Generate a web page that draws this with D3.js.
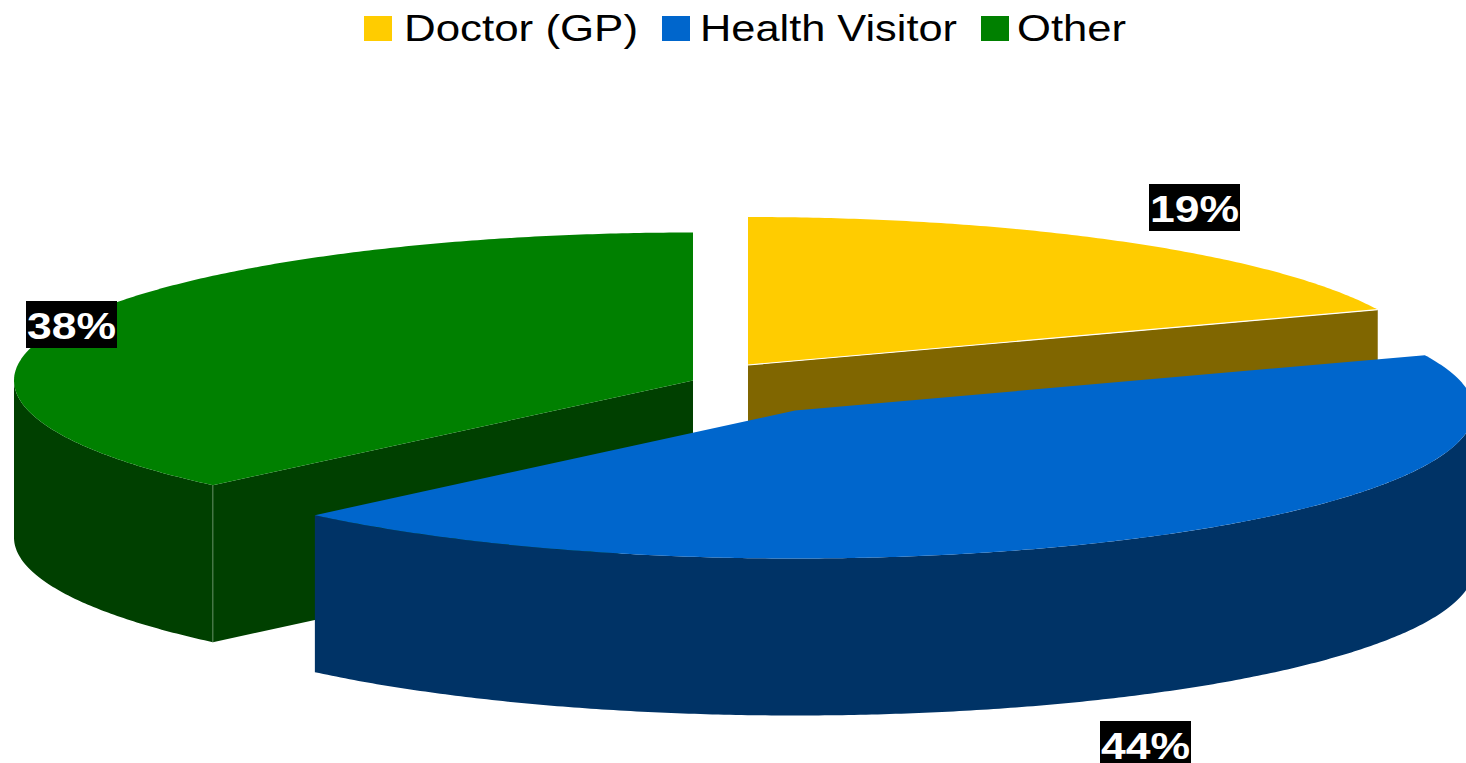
<!DOCTYPE html>
<html>
<head>
<meta charset="utf-8">
<script src="https://cdn.jsdelivr.net/npm/d3@7"></script>
<style>
html,body{margin:0;padding:0;background:#fff;overflow:hidden}
svg{display:block}
text{font-family:"Liberation Sans",Arial,sans-serif}
</style>
</head>
<body>
<div id="chart"></div>
<script>
const categories = ["Doctor (GP)", "Health Visitor", "Other"];
const values = [18.9, 43.6, 37.5];
const percentLabels = ["19%", "44%", "38%"];
const topColors = ["#FFCC00", "#0066CC", "#008000"];
const sideColors = ["#806600", "#003366", "#004000"];

// Layout
const W = 1466, H = 763;
const rx = 679, ry = 148, depth = 157;
const centers = [[748, 365], [795, 410.5], [693, 380.5]];
const labelBoxes = [[1149, 184], [1100, 721], [26, 301]];
const legendItems = [[364, 404, 234], [662, 700, 257], [981, 1017, 109]];
const drawOrder = [0, 2, 1];

const svg = d3.select("#chart").append("svg").attr("width", W).attr("height", H).attr("viewBox", [0, 0, W, H]);
const arcs = d3.pie().sort(null).value(d => d)(values);
const line = d3.line();
const step = Math.PI / 360;
const sample = (a0, a1) => d3.range(a0, a1, step).concat([a1]);

drawOrder.forEach(i => {
  const [cx, cy] = centers[i];
  const { startAngle: a0, endAngle: a1 } = arcs[i];
  const rim = (a, dy = 0) => [cx + rx * Math.sin(a), cy - ry * Math.cos(a) + dy];
  const g = svg.append("g").attr("class", "slice");

  // radial walls that face the viewer
  [[a1, Math.sin(a1) > 0], [a0, Math.sin(a0) < -1e-6]].forEach(([a, visible]) => {
    if (!visible) return;
    const p = rim(a), q = rim(a, depth);
    g.append("path").attr("fill", sideColors[i])
      .attr("d", line([[cx, cy], p, q, [cx, cy + depth]]) + "Z");
  });

  // outer curved wall
  const w0 = Math.max(a0, Math.PI / 2), w1 = Math.min(a1, 3 * Math.PI / 2);
  if (w1 > w0) {
    const as = sample(w0, w1);
    g.append("path").attr("fill", sideColors[i])
      .attr("d", line(as.map(a => rim(a)).concat(as.slice().reverse().map(a => rim(a, depth)))) + "Z");
  }

  // vertical seam on the corner between the two walls
  if (i === 2) {
    const p = rim(a0), q = rim(a0, depth);
    g.append("line").attr("x1", p[0]).attr("y1", p[1]).attr("x2", q[0]).attr("y2", q[1])
      .attr("stroke", "#5f8a5f").attr("stroke-width", 1);
  }

  // top face
  g.append("path").attr("fill", topColors[i])
    .attr("d", line([[cx, cy]].concat(sample(a0, a1).map(a => rim(a)))) + "Z");

  // light edge between yellow top and wall
  if (i === 0) {
    const p = rim(a1);
    g.append("line").attr("x1", cx).attr("y1", cy).attr("x2", p[0]).attr("y2", p[1])
      .attr("stroke", "#fff").attr("stroke-width", 1.2);
  }
});

// percentage labels
percentLabels.forEach((t, i) => {
  const [x, y] = labelBoxes[i];
  const g = svg.append("g").attr("class", "label");
  g.append("rect").attr("x", x).attr("y", y).attr("width", 91).attr("height", 47).attr("fill", "#000");
  g.append("text").attr("x", x + 1).attr("y", y + 38)
    .attr("fill", "#fff").attr("font-size", 37).attr("font-weight", "bold")
    .attr("textLength", 89).attr("lengthAdjust", "spacingAndGlyphs").text(t);
});

// legend
categories.forEach((c, i) => {
  const [sx, tx, tw] = legendItems[i];
  svg.append("rect").attr("x", sx).attr("y", 16).attr("width", 28).attr("height", 25).attr("fill", topColors[i]);
  svg.append("text").attr("x", tx).attr("y", 41).attr("fill", "#000").attr("font-size", 36)
    .attr("textLength", tw).attr("lengthAdjust", "spacingAndGlyphs").text(c);
});
</script>
</body>
</html>
